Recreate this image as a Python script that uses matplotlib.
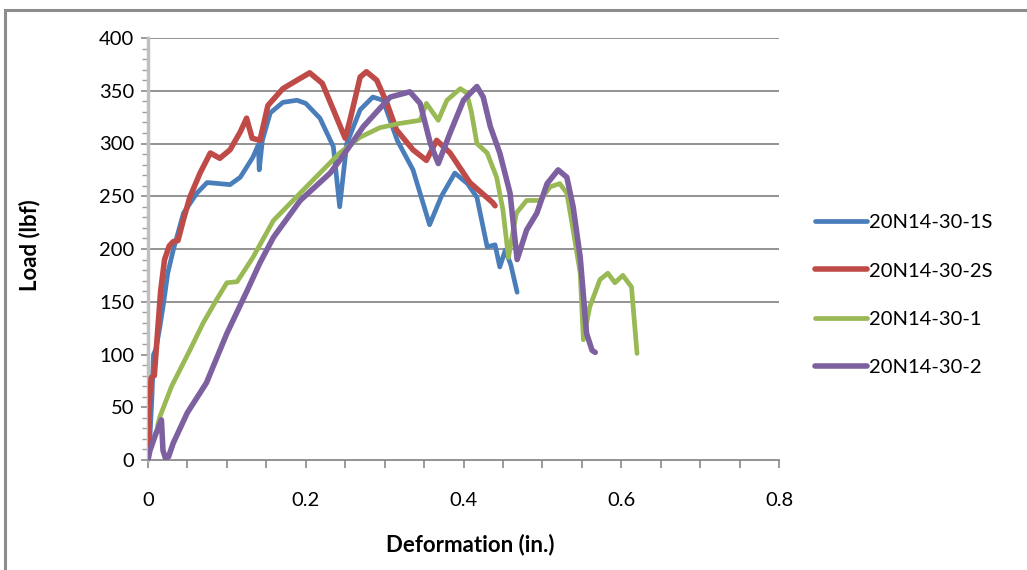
import matplotlib
matplotlib.use("Agg")
import matplotlib.pyplot as plt
from matplotlib.patches import Rectangle
from matplotlib.ticker import MultipleLocator

# ---- data ----
x_1s = [0, 0.002, 0.005, 0.007, 0.01, 0.015, 0.02, 0.025, 0.032, 0.045, 0.062, 0.075, 0.09, 0.104,
        0.117, 0.133, 0.14, 0.141, 0.145, 0.155, 0.171, 0.189, 0.2, 0.218, 0.235, 0.243, 0.252,
        0.269, 0.285, 0.298, 0.316, 0.336, 0.357, 0.372, 0.389, 0.405, 0.417, 0.43, 0.44, 0.446,
        0.453, 0.46, 0.468]
y_1s = [0, 15, 60, 100, 105, 126, 150, 177, 199, 234, 253, 263, 262, 261,
        268, 287, 299, 275, 303, 329, 339, 341, 338, 324, 297, 240, 300,
        332, 344, 341, 303, 275, 223, 250, 272, 262, 249, 202, 204, 183,
        199, 185, 159]

x_2s = [0, 0.002, 0.004, 0.008, 0.012, 0.016, 0.021, 0.027, 0.032, 0.038, 0.045, 0.053, 0.066,
        0.079, 0.091, 0.104, 0.117, 0.125, 0.132, 0.142, 0.152, 0.171, 0.189, 0.205, 0.221, 0.235,
        0.25, 0.256, 0.269, 0.277, 0.29, 0.303, 0.315, 0.336, 0.353, 0.366, 0.383, 0.408, 0.437, 0.44]
y_2s = [0, 60, 78, 80, 120, 160, 190, 203, 207, 208, 228, 249, 272,
        291, 286, 294, 311, 324, 305, 303, 336, 352, 360, 367, 357, 332,
        305, 322, 363, 368, 360, 338, 313, 294, 284, 303, 291, 263, 244, 241]

x_1 = [0.012, 0.015, 0.03, 0.053, 0.07, 0.087, 0.1, 0.113, 0.133, 0.159, 0.193, 0.243, 0.269,
       0.294, 0.319, 0.345, 0.353, 0.368, 0.379, 0.396, 0.404, 0.41, 0.417, 0.43, 0.442, 0.45,
       0.457, 0.461, 0.467, 0.48, 0.497, 0.51, 0.522, 0.531, 0.539, 0.548, 0.552, 0.56, 0.573,
       0.583, 0.592, 0.602, 0.613, 0.62]
y_1 = [32, 41, 70, 104, 130, 152, 168, 169, 192, 227, 253, 291, 306,
       315, 319, 322, 338, 322, 341, 352, 348, 330, 300, 291, 268, 237,
       192, 209, 234, 246, 246, 259, 262, 253, 218, 177, 114, 145, 171,
       177, 168, 175, 164, 101]

x_2 = [0, 0.0025, 0.01, 0.017, 0.019, 0.022, 0.026, 0.032, 0.05, 0.074, 0.1, 0.126, 0.142, 0.159,
       0.193, 0.231, 0.243, 0.273, 0.307, 0.332, 0.345, 0.358, 0.368, 0.383, 0.4, 0.417, 0.425,
       0.434, 0.446, 0.459, 0.468, 0.48, 0.493, 0.506, 0.52, 0.531, 0.539, 0.548, 0.556, 0.563, 0.567]
y_2 = [0, 9, 25, 38, 9, 2, 3, 16, 45, 73, 120, 161, 187, 211,
       246, 272, 284, 316, 344, 349, 338, 300, 281, 310, 341, 354, 344,
       316, 291, 253, 190, 218, 234, 262, 275, 268, 240, 192, 120, 104, 102]

labels = ["20N14-30-1S", "20N14-30-2S", "20N14-30-1", "20N14-30-2"]
colors = ["#4A7EBB", "#BE4B48", "#98B954", "#7D60A0"]
widths = [3.4, 4.0, 3.4, 4.0]

x_ticks = [0, 0.2, 0.4, 0.6, 0.8]
y_ticks = [0, 50, 100, 150, 200, 250, 300, 350, 400]
grid_levels = [150, 200, 250, 300, 350, 400]

plt.rcParams['font.family'] = ['Lato', 'DejaVu Sans']

fig = plt.figure(figsize=(10.27, 5.70), dpi=100)
fig.patch.set_facecolor("white")

# outer frame (chart area border, partly cropped)
fig.patches.append(Rectangle((5 / 1027, -0.1), 1.2, 1 - 10 / 570 + 0.1,
                             transform=fig.transFigure, fill=False,
                             edgecolor="#8c8c8c", linewidth=2.2, zorder=0))

ax = fig.add_axes([148 / 1027, 1 - 460 / 570, (779 - 148) / 1027, (460 - 38) / 570])
ax.set_xlim(0, 0.8)
ax.set_ylim(0, 400)

for gl in grid_levels:
    ax.axhline(gl, color="#8a8a8a", linewidth=1.3, zorder=1)

series = [(x_1s, y_1s), (x_2s, y_2s), (x_1, y_1), (x_2, y_2)]
for (xs, ys), lab, c, w in zip(series, labels, colors, widths):
    ax.plot(xs, ys, color=c, linewidth=w, label=lab, solid_capstyle="round",
            solid_joinstyle="round", zorder=3)

for s in ["top", "right"]:
    ax.spines[s].set_visible(False)
ax.spines["left"].set_color("#c0c0c0")
ax.spines["left"].set_linewidth(2.5)
ax.spines["bottom"].set_color("#8a8a8a")
ax.spines["bottom"].set_linewidth(1.3)

ax.set_xticks(x_ticks)
ax.set_xticklabels(["0", "0.2", "0.4", "0.6", "0.8"])
ax.xaxis.set_minor_locator(MultipleLocator(0.05))
ax.set_yticks(y_ticks)
ax.yaxis.set_minor_locator(MultipleLocator(10))
ax.tick_params(axis="x", which="both", direction="out", length=6, width=1.2,
               color="#8a8a8a", labelsize=14.5, pad=17)
ax.tick_params(axis="y", which="major", direction="out", length=5, width=1.2,
               color="#8a8a8a", labelsize=14.5, pad=5)
ax.tick_params(axis="y", which="minor", direction="out", length=4, width=1.0,
               color="#a0a0a0")

fig.text(30 / 1027, 1 - 245 / 570, "Load (lbf)", rotation=90, ha="center", va="center",
         fontsize=16, fontweight="bold")
fig.text(470 / 1027, 1 - 545 / 570, "Deformation (in.)", ha="center", va="center",
         fontsize=16, fontweight="bold")

leg = fig.legend(loc="upper left", bbox_to_anchor=(797 / 1027, 1 - 196 / 570),
                 frameon=False, fontsize=14.5, handlelength=2.6, handletextpad=0.1,
                 labelspacing=1.55)

fig.savefig("out.png", dpi=100, facecolor="white")
